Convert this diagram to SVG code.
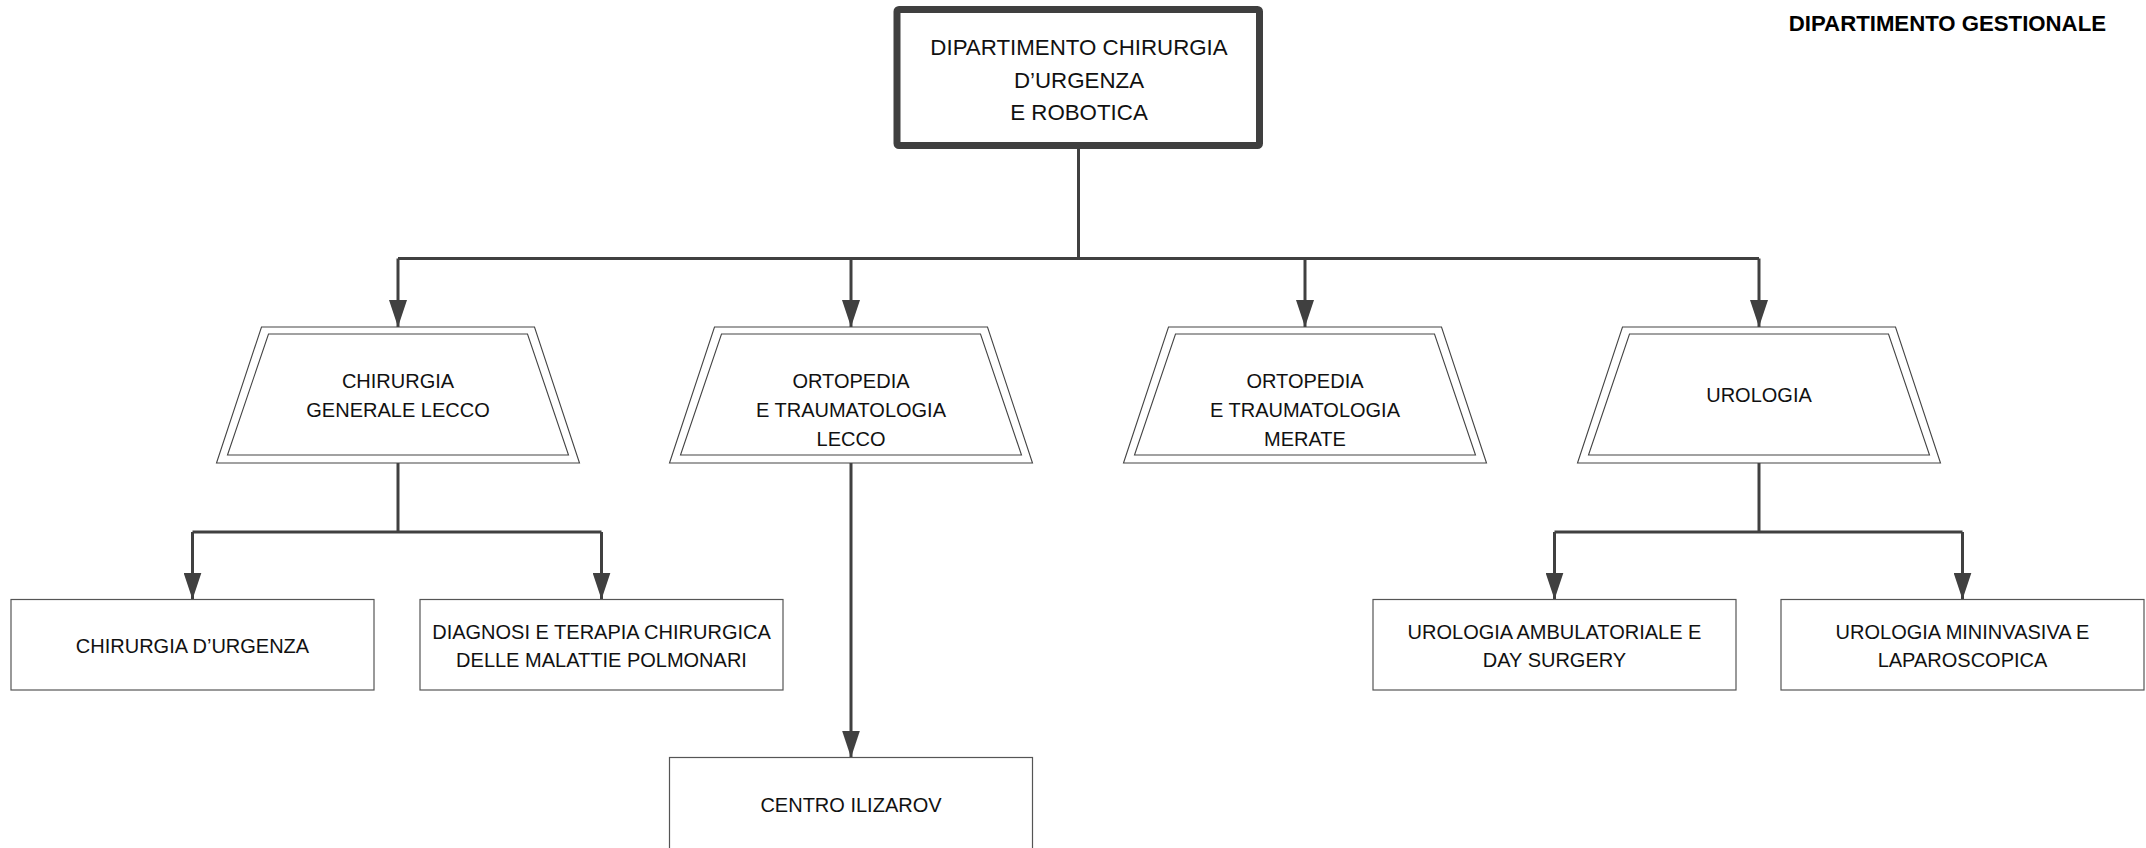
<svg xmlns="http://www.w3.org/2000/svg" width="2146" height="848" viewBox="0 0 2146 848">
<style>
.t{font-family:"Liberation Sans",Arial,sans-serif;font-size:20px;fill:#111;text-anchor:middle}
.tt{font-family:"Liberation Sans",Arial,sans-serif;font-size:22.3px;fill:#111;text-anchor:middle}
.hdr{font-family:"Liberation Sans",Arial,sans-serif;font-size:22.2px;font-weight:bold;fill:#000;text-anchor:end}
.box{fill:#fff;stroke:#555;stroke-width:1.2}
.trap{fill:#fff;stroke:#444;stroke-width:1.1}
.main{fill:#fff;stroke:#3f3f3f;stroke-width:7;stroke-linejoin:round}
.ln{fill:none;stroke:#404040;stroke-width:3}
</style>
<defs>
<marker id="ah" markerUnits="userSpaceOnUse" markerWidth="27" markerHeight="18" refX="27" refY="9" orient="auto" viewBox="0 0 27 18">
<path d="M0,0 L27,9 L0,18 Z" fill="#404040"/>
</marker>
</defs>

<text class="hdr" x="2106" y="31">DIPARTIMENTO GESTIONALE</text>

<g id="connectors">
<path class="ln" d="M1078.5,149 L1078.5,258.5"/>
<path class="ln" d="M398,258.5 L1759,258.5"/>
<path class="ln" d="M398,258.5 L398,327" marker-end="url(#ah)"/>
<path class="ln" d="M851,258.5 L851,327" marker-end="url(#ah)"/>
<path class="ln" d="M1305,258.5 L1305,327" marker-end="url(#ah)"/>
<path class="ln" d="M1759,258.5 L1759,327" marker-end="url(#ah)"/>
<path class="ln" d="M398,463 L398,532"/>
<path class="ln" d="M192.5,532 L601.5,532"/>
<path class="ln" d="M192.5,532 L192.5,599.5" marker-end="url(#ah)"/>
<path class="ln" d="M601.5,532 L601.5,599.5" marker-end="url(#ah)"/>
<path class="ln" d="M851,463 L851,757.5" marker-end="url(#ah)"/>
<path class="ln" d="M1759,463 L1759,532"/>
<path class="ln" d="M1554.5,532 L1962.5,532"/>
<path class="ln" d="M1554.5,532 L1554.5,599.5" marker-end="url(#ah)"/>
<path class="ln" d="M1962.5,532 L1962.5,599.5" marker-end="url(#ah)"/>
</g>

<g id="dip">
<rect class="main" x="897" y="9.5" width="362.5" height="136" rx="2"/>
<text class="tt" x="1079" y="55">DIPARTIMENTO CHIRURGIA</text>
<text class="tt" x="1079" y="87.5">D’URGENZA</text>
<text class="tt" x="1079" y="119.5">E ROBOTICA</text>
</g>

<g id="chir-gen">
<polygon class="trap" points="261.5,327 534.5,327 579.5,463 216.5,463"/>
<polygon class="trap" points="268.5,334 527.5,334 568.5,455 227.5,455"/>
<text class="t" x="398" y="388">CHIRURGIA</text>
<text class="t" x="398" y="417">GENERALE LECCO</text>
</g>

<g id="orto-lecco">
<polygon class="trap" points="714.5,327 987.5,327 1032.5,463 669.5,463"/>
<polygon class="trap" points="721.5,334 980.5,334 1021.5,455 680.5,455"/>
<text class="t" x="851" y="388">ORTOPEDIA</text>
<text class="t" x="851" y="417">E TRAUMATOLOGIA</text>
<text class="t" x="851" y="446">LECCO</text>
</g>

<g id="orto-merate">
<polygon class="trap" points="1168.5,327 1441.5,327 1486.5,463 1123.5,463"/>
<polygon class="trap" points="1175.5,334 1434.5,334 1475.5,455 1134.5,455"/>
<text class="t" x="1305" y="388">ORTOPEDIA</text>
<text class="t" x="1305" y="417">E TRAUMATOLOGIA</text>
<text class="t" x="1305" y="446">MERATE</text>
</g>

<g id="urologia">
<polygon class="trap" points="1622.5,327 1895.5,327 1940.5,463 1577.5,463"/>
<polygon class="trap" points="1629.5,334 1888.5,334 1929.5,455 1588.5,455"/>
<text class="t" x="1759" y="402">UROLOGIA</text>
</g>

<g id="chir-urg">
<rect class="box" x="11" y="599.5" width="363" height="90.5"/>
<text class="t" x="192.5" y="652.5">CHIRURGIA D’URGENZA</text>
</g>

<g id="diagnosi">
<rect class="box" x="420" y="599.5" width="363" height="90.5"/>
<text class="t" x="601.5" y="639">DIAGNOSI E TERAPIA CHIRURGICA</text>
<text class="t" x="601.5" y="666.5">DELLE MALATTIE POLMONARI</text>
</g>

<g id="ilizarov">
<rect class="box" x="669.5" y="757.5" width="363" height="100"/>
<text class="t" x="851" y="811.5">CENTRO ILIZAROV</text>
</g>

<g id="uro-amb">
<rect class="box" x="1373" y="599.5" width="363" height="90.5"/>
<text class="t" x="1554.5" y="639">UROLOGIA AMBULATORIALE E</text>
<text class="t" x="1554.5" y="666.5">DAY SURGERY</text>
</g>

<g id="uro-min">
<rect class="box" x="1781" y="599.5" width="363" height="90.5"/>
<text class="t" x="1962.5" y="639">UROLOGIA MININVASIVA E</text>
<text class="t" x="1962.5" y="666.5">LAPAROSCOPICA</text>
</g>
</svg>
